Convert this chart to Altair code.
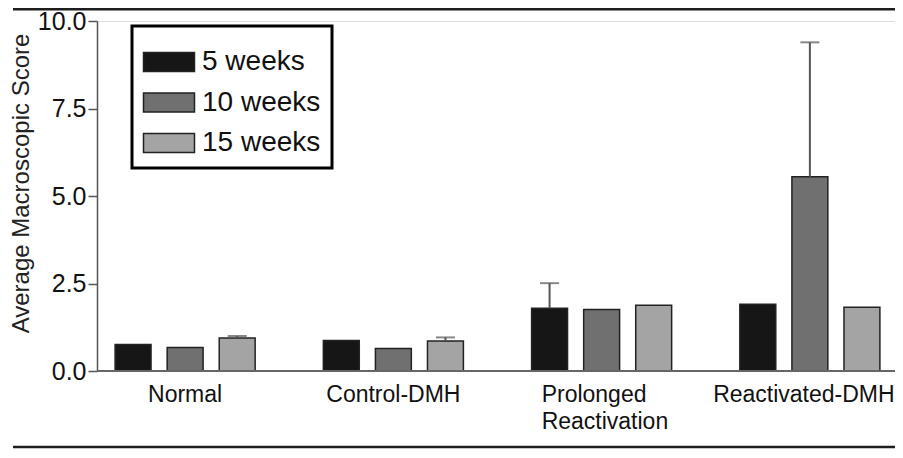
import altair as alt
import pandas as pd

categories = ["Normal", "Control-DMH", "Prolonged Reactivation", "Reactivated-DMH"]
series = ["5 weeks", "10 weeks", "15 weeks"]
colors = ["#161616", "#707070", "#a4a4a4"]

# mean values per category, one list per series
vals_5 = [0.76, 0.87, 1.79, 1.91]
vals_10 = [0.67, 0.64, 1.76, 5.55]
vals_15 = [0.94, 0.86, 1.88, 1.82]
# upper error (top of error bar); 0 = none drawn
err_5 = [0, 0, 2.51, 0]
err_10 = [0, 0, 0, 9.39]
err_15 = [1.00, 0.96, 0, 0]

rows = []
for s, vals, errs in [(series[0], vals_5, err_5), (series[1], vals_10, err_10), (series[2], vals_15, err_15)]:
    for c, v, e in zip(categories, vals, errs):
        rows.append({"category": c, "series": s, "value": v, "err": e})
df = pd.DataFrame(rows)

FONT = "Liberation Sans"

x_enc = alt.X("category:N", sort=categories,
              scale=alt.Scale(range=[-16, 817], paddingInner=0, paddingOuter=0),
              axis=alt.Axis(title=None, domain=False, ticks=False, labelAngle=0,
                            labelFontSize=23, labelFont=FONT, labelColor="#111",
                            labelPadding=12, labelLineHeight=27, labelLimit=400, labelOverlap=False,
                            labelExpr="datum.label == 'Prolonged Reactivation' ? ['Prolonged', 'Reactivation'] : datum.label",
                            labelAlign={"expr": "datum.value == 'Prolonged Reactivation' ? 'left' : 'center'"},
                            labelOffset={"expr": "datum.value == 'Prolonged Reactivation' ? -60 : (datum.value == 'Reactivated-DMH' ? -6 : 0)"}))
xo_enc = alt.XOffset("series:N", sort=series, scale=alt.Scale(paddingInner=0.31, paddingOuter=0.655))
y_scale = alt.Scale(domain=[0, 10], nice=False, zero=True)

bars = alt.Chart(df).mark_bar(stroke="#222", strokeWidth=1.5).encode(
    x=x_enc,
    xOffset=xo_enc,
    y=alt.Y("value:Q", scale=y_scale,
            axis=alt.Axis(title="Average Macroscopic Score", values=[0, 2.5, 5, 7.5, 10], format=".1f",
                          grid=False, labelFontSize=25, labelFont=FONT, labelColor="#111",
                          labelPadding=2, tickSize=9, tickColor="#555", tickWidth=1.5,
                          domainColor="#555", domainWidth=1.5,
                          titleFontSize=24, titleFont=FONT, titleFontWeight="normal", titleColor="#222",
                          titleX=-76, titleY=162, titleAlign="center", titleBaseline="middle")),
    color=alt.Color("series:N", sort=series, scale=alt.Scale(domain=series, range=colors),
                    legend=alt.Legend(orient="none", legendX=35, legendY=5, title=" ",
                                      titleFontSize=10, titlePadding=1,
                                      symbolType="M-2.684,-1H2.684V1H-2.684Z", symbolSize=361,
                                      symbolOffset=12,
                                      symbolStrokeColor="#222", symbolStrokeWidth=1.5, symbolOpacity=1,
                                      labelFontSize=28, labelFont=FONT, labelColor="#111", labelOffset=19,
                                      padding=11, strokeColor="black",
                                      fillColor="white")),
)

err_df = df[df["err"] > 0]
err_rule = alt.Chart(err_df).mark_rule(color="#555", strokeWidth=2).encode(
    x=x_enc, xOffset=xo_enc, y=alt.Y("value:Q", scale=y_scale), y2="err:Q")
err_cap = alt.Chart(err_df).mark_tick(color="#555", thickness=2, size=19, orient="horizontal").encode(
    x=x_enc, xOffset=xo_enc, y=alt.Y("err:Q", scale=y_scale))

base_df = pd.DataFrame({"v": [0]})
baseline = alt.Chart(base_df).mark_rule(color="#666", strokeWidth=2).encode(y=alt.Y("v:Q", scale=y_scale))
top_line = alt.Chart(base_df).mark_rule(color="#1e1e1e", strokeWidth=3).encode(
    x=alt.value(-84), x2=alt.value(800), y=alt.value(-12))
bottom_line = alt.Chart(base_df).mark_rule(color="#1e1e1e", strokeWidth=2.5).encode(
    x=alt.value(-84), x2=alt.value(800), y=alt.value(426))

chart = alt.layer(bars, err_rule, err_cap, baseline, top_line, bottom_line).properties(
    width=798, height=350,
    autosize=alt.AutoSizeParams(type="none"),
    padding={"left": 89, "top": 13, "right": 0, "bottom": 78},
).configure_view(stroke=None).configure(background="white").configure_legend(
    strokeWidth=3, rowPadding=12.5)

chart.save("out.html", embed_options={"renderer": "svg", "actions": False})
